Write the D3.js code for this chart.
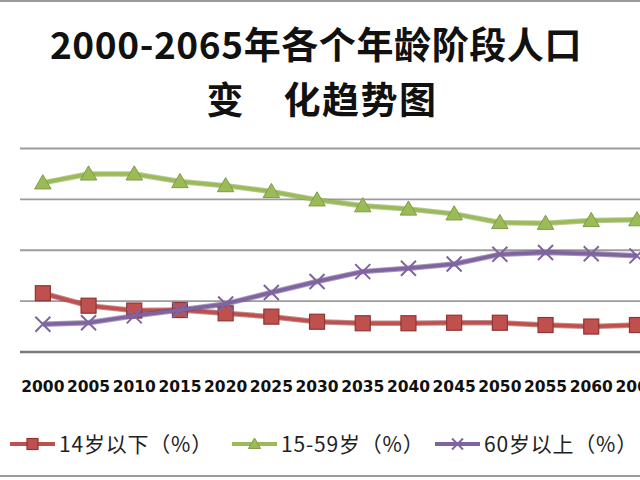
<!DOCTYPE html>
<html>
<head>
<meta charset="utf-8">
<script src="https://cdn.jsdelivr.net/npm/d3@7"></script>
<style>
body { margin: 0; background: #fff; }
svg { display: block; }
</style>
</head>
<body>
<svg id="chart" width="640" height="480"></svg>
<script>
var years = ['2000', '2005', '2010', '2015', '2020', '2025', '2030', '2035', '2040', '2045', '2050', '2055', '2060', '2065']
var under14 = [23.1, 18.2, 16.3, 16.5, 15.2, 13.9, 11.9, 11.3, 11.3, 11.5, 11.5, 10.6, 10.0, 10.6]
var age15to59 = [66.5, 70.0, 70.0, 67.0, 65.4, 63.1, 59.8, 57.5, 56.2, 54.3, 50.9, 50.6, 51.7, 52.0]
var over60 = [10.9, 11.5, 14.2, 16.5, 18.9, 23.4, 27.7, 31.6, 32.9, 34.6, 38.4, 39.1, 38.6, 37.8]
var yTicks = [0, 20, 40, 60, 80]
var seriesNames = ['14岁以下（%）', '15-59岁（%）', '60岁以上（%）']
var seriesColors = ['#C0504D', '#9BBB59', '#8064A2']
var markerEdges = ['#8E3532', '#7F9C45', '#5E4A7E']
var titleLines = ['2000-2065年各个年龄阶段人口', '变　化趋势图']

var svg = d3.select('#chart')
svg.append('rect').attr('width', 640).attr('height', 480).attr('fill', '#fff')

// frame edges of the original picture
svg.append('line').attr('x1', 0).attr('x2', 640).attr('y1', 1).attr('y2', 1)
	.attr('stroke', '#9a9a9a').attr('stroke-width', 2)
svg.append('line').attr('x1', 0).attr('x2', 640).attr('y1', 476).attr('y2', 476)
	.attr('stroke', '#9a9a9a').attr('stroke-width', 2)

// title, one text with a tspan per line
var title = svg.append('text')
	.attr('text-anchor', 'middle')
	.style('font-family', '"Noto Sans CJK SC", "Noto Sans", sans-serif')
	.style('font-weight', 'bold')
	.attr('fill', '#111')
title.append('tspan').attr('x', 316).attr('y', 59)
	.style('font-size', '37px').style('letter-spacing', '0.6px').text(titleLines[0])
title.append('tspan').attr('x', 322).attr('y', 114)
	.style('font-size', '37px').style('letter-spacing', '1.5px').text(titleLines[1])

var x = d3.scaleBand().domain(years).range([20, 20 + years.length * 45.7]).padding(0)
var y = d3.scaleLinear().domain([0, 80]).range([352, 148.5])
var cx = function(d) { return x(d) + x.bandwidth() / 2 }

// gridlines
svg.append('g').selectAll('line').data(yTicks).enter().append('line')
	.attr('x1', 20).attr('x2', 20 + years.length * 45.7)
	.attr('y1', function(d) { return y(d) }).attr('y2', function(d) { return y(d) })
	.attr('stroke', function(d) { return d == 0 ? '#7a7a7a' : '#9c9c9c' })
	.attr('stroke-width', function(d) { return d == 0 ? 2.5 : 1.8 })

// x axis labels
var xAxis = d3.axisBottom(x).tickSize(0).tickPadding(0)
var gx = svg.append('g').attr('transform', 'translate(0,' + 381 + ')').call(xAxis)
gx.select('.domain').remove()
gx.selectAll('text')
	.style('font-family', '"DejaVu Sans", sans-serif')
	.style('font-weight', 'bold')
	.style('font-size', '15.5px')
	.attr('fill', '#111')

var data = [under14, age15to59, over60]
var line = d3.line()
	.x(function(d, i) { return cx(years[i]) })
	.y(function(d) { return y(d) })

function drawMarker(g, k, px, py, s)
{
	if(k == 0)
	{
		g.append('rect').attr('x', px - s / 2).attr('y', py - s / 2).attr('width', s).attr('height', s)
			.attr('fill', seriesColors[k]).attr('stroke', markerEdges[k]).attr('stroke-width', 1.2)
	}
	else if(k == 1)
	{
		var h = s * 0.9
		g.append('path')
			.attr('d', 'M' + px + ',' + (py - h * 0.6) + 'L' + (px + s * 0.55) + ',' + (py + h * 0.45) + 'L' + (px - s * 0.55) + ',' + (py + h * 0.45) + 'Z')
			.attr('fill', seriesColors[k]).attr('stroke', markerEdges[k]).attr('stroke-width', 1)
	}
	else
	{
		var r = s / 2
		g.append('path')
			.attr('d', 'M' + (px - r) + ',' + (py - r) + 'L' + (px + r) + ',' + (py + r) + 'M' + (px - r) + ',' + (py + r) + 'L' + (px + r) + ',' + (py - r))
			.attr('stroke', seriesColors[k]).attr('stroke-width', 2).attr('fill', 'none')
	}
}

data.forEach(function(vals, k)
{
	var g = svg.append('g')
	g.append('path').datum(vals).attr('d', line)
		.attr('fill', 'none').attr('stroke', markerEdges[k]).attr('stroke-width', 5.5)
		.attr('stroke-linejoin', 'round').attr('opacity', 0.55)
	g.append('path').datum(vals).attr('d', line)
		.attr('fill', 'none').attr('stroke', seriesColors[k]).attr('stroke-width', 3.5)
		.attr('stroke-linejoin', 'round')
	vals.forEach(function(v, i)
	{
		drawMarker(g, k, cx(years[i]), y(v), 15)
	})
})

// legend
var legendX = [10, 232, 435]
var legend = svg.append('g')
seriesNames.forEach(function(name, k)
{
	var lg = legend.append('g').attr('transform', 'translate(' + legendX[k] + ',444)')
	lg.append('line').attr('x1', 0).attr('x2', 45).attr('y1', 0).attr('y2', 0)
		.attr('stroke', seriesColors[k]).attr('stroke-width', 4)
	drawMarker(lg, k, 22.5, 0, 11)
	lg.append('text').attr('x', 49).attr('y', 8)
		.style('font-family', '"Noto Sans CJK SC", sans-serif')
		.style('font-size', '21px')
		.style('letter-spacing', '0.8px')
		.attr('fill', '#222')
		.text(name)
})
</script>
</body>
</html>
